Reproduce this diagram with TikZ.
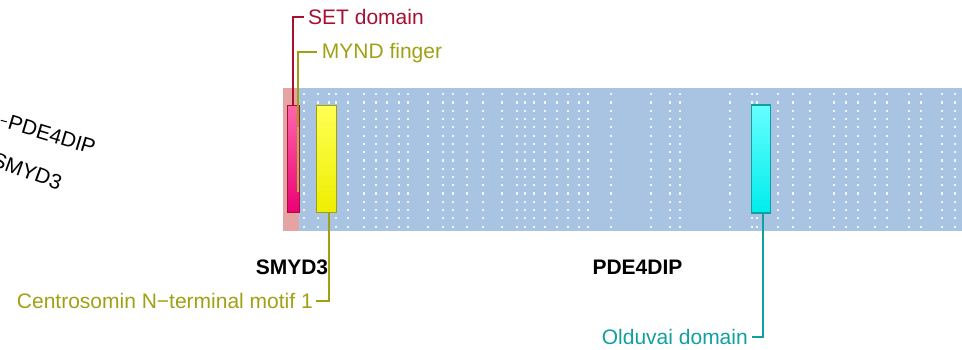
\documentclass[tikz,border=0pt]{standalone}
\usepackage{fontspec}
\setmainfont{Liberation Sans}
\begin{document}
\begin{tikzpicture}[x=1pt,y=-1pt,
  every node/.style={font=\fontsize{21}{25}\selectfont},
  lbl/.style={inner sep=0pt, anchor=base west},
  conn/.style={line width=1.8pt},
  dombox/.style={line width=1.5pt, inner sep=0pt},
]
\definecolor{setred}{RGB}{166,16,48}
\definecolor{olive}{RGB}{160,160,20}
\definecolor{teal2}{RGB}{16,160,160}
\definecolor{bandblue}{RGB}{168,196,226}
\definecolor{bandred}{RGB}{228,164,164}
\useasboundingbox (0,0) rectangle (962,350);

% transcript band: SMYD3 part (red) and PDE4DIP part (blue)
\fill[bandred] (283,88) rectangle (299,231);
\fill[bandblue] (299,88) rectangle (962,231);

% exon boundary dots
\foreach \x in {304,318,329,336,348,364,376,387,399,408,428,443,453,467,483,502,517,525,534,545,557,568,579,588,611,651,670,680,730,752,757,778,793,810,834,846,858,875,887,909,921,942,955}{
  \foreach \k in {0,...,16}{
    \fill[white, opacity=0.85] (\x-1.1,94.3+8.27*\k-1.1) rectangle ++(2.2,2.2);
  }
}

% protein domains
\node[dombox, draw=setred, top color={rgb,255:red,255;green,102;blue,170}, bottom color={rgb,255:red,236;green,0;blue,118},
  minimum width=12pt, minimum height=106.6pt] (setbox) at (293.3,159) {};
\node[dombox, draw=olive, top color={rgb,255:red,255;green,255;blue,85}, bottom color={rgb,255:red,238;green,238;blue,0},
  minimum width=20pt, minimum height=106.6pt] (ctmbox) at (326.7,159) {};
\node[inner sep=0pt, fill=olive!80, minimum width=2.6pt, minimum height=65pt] (myndbox) at (298,159.2) {};
\node[dombox, draw=teal2, top color={rgb,255:red,102;green,255;blue,255}, bottom color={rgb,255:red,0;green,236;blue,236},
  minimum width=19pt, minimum height=108pt] (oldbox) at (761.2,159) {};

% domain labels
\node[lbl, text=setred] (setlbl) at (308,24.5) {SET domain};
\node[lbl, text=olive] (myndlbl) at (321.7,59) {MYND finger};
\node[inner sep=0pt, anchor=east, text=olive] (ctmlbl) at (313,301) {Centrosomin N\textminus terminal motif 1};
\node[inner sep=0pt, anchor=east, text=teal2] (oldlbl) at (748,337) {Olduvai domain};

% connectors from domains to their labels
\draw[conn, setred] (setbox.north) |- ([xshift=-4pt]setlbl.west |- 0,17);
\draw[conn, olive] (myndbox.north) |- ([xshift=-5pt]myndlbl.west |- 0,51.7);
\draw[conn, olive] ([xshift=2.6pt]ctmbox.south) |- ([xshift=3pt]ctmlbl.east);
\draw[conn, teal2] ([xshift=1.5pt]oldbox.south) |- ([xshift=3.5pt]oldlbl.east);

% gene names
\node[font=\fontsize{21}{25}\selectfont\bfseries] (smyd3) at (292,267) {SMYD3};
\node[font=\fontsize{21}{25}\selectfont\bfseries] (pde4dip) at (637.5,267) {PDE4DIP};

% rotated gene labels at the left
\node[rotate=-17, inner sep=0pt] (pdelbl) at (52,135) {PDE4DIP};
\node[rotate=-20, inner sep=0pt] (smylbl) at (27,171) {SMYD3};
\draw[line width=1pt] ([xshift=-2pt]pdelbl.west) -- ++(-6,-1.5);
\end{tikzpicture}
\end{document}
